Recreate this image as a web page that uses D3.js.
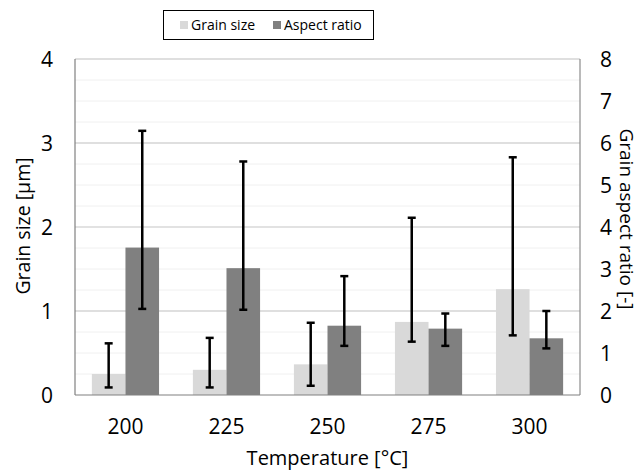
<!DOCTYPE html>
<html>
<head>
<meta charset="utf-8">
<script src="https://cdn.jsdelivr.net/npm/d3@7"></script>
<style>
  body { margin: 0; background: #fff; }
  text { font-family: "Open Sans", sans-serif; fill: #000; }
</style>
</head>
<body>
<svg id="chart" width="639" height="472"></svg>
<script>
// values
const temps = ['200', '225', '250', '275', '300'];
const grainSize = [0.25, 0.30, 0.365, 0.87, 1.26];
const grainLow = [0.09, 0.09, 0.11, 0.635, 0.71];
const grainHigh = [0.615, 0.68, 0.86, 2.11, 2.83];
const aspect = [3.51, 3.02, 1.65, 1.58, 1.35];
const aspectLow = [2.05, 2.03, 1.17, 1.17, 1.11];
const aspectHigh = [6.29, 5.56, 2.83, 1.94, 2.0];
const leftTicks = [0, 1, 2, 3, 4];
const rightTicks = [0, 1, 2, 3, 4, 5, 6, 7, 8];

const svg = d3.select('#chart');
const margin = { top: 59, right: 59, bottom: 77, left: 75 };
const width = 639 - margin.left - margin.right;
const height = 472 - margin.top - margin.bottom;

const g = svg.append('g').attr('transform', `translate(${margin.left},${margin.top})`);

const x0 = d3.scaleBand().domain(temps).range([0, width]).paddingInner(0.335).paddingOuter(0.167);
const x1 = d3.scaleBand().domain(['grain', 'aspect']).range([0, x0.bandwidth()]);
const yL = d3.scaleLinear().domain([0, 4]).range([height, 0]);
const yR = d3.scaleLinear().domain([0, 8]).range([height, 0]);

// minor gridlines every 0.25
g.append('g').selectAll('line')
  .data(d3.range(0.25, 4, 0.25).filter(v => v % 1 !== 0)).enter().append('line')
  .attr('x1', 0).attr('x2', width)
  .attr('y1', d => yL(d)).attr('y2', d => yL(d))
  .attr('stroke', '#f0f0f0').attr('stroke-width', 1);

// major gridlines
g.append('g').selectAll('line')
  .data([1, 2, 3, 4]).enter().append('line')
  .attr('x1', 0).attr('x2', width)
  .attr('y1', d => yL(d)).attr('y2', d => yL(d))
  .attr('stroke', d => d === 2 ? '#d9d9d9' : '#bfbfbf')
  .attr('stroke-width', d => d === 2 ? 1.5 : 1);

// right border
g.append('line').attr('x1', width).attr('x2', width).attr('y1', 0).attr('y2', height)
  .attr('stroke', '#8c8c8c').attr('stroke-width', 1.2);

const rows = temps.map((t, i) => ({
  t,
  grain: grainSize[i], gLo: grainLow[i], gHi: grainHigh[i],
  aspect: aspect[i], aLo: aspectLow[i], aHi: aspectHigh[i]
}));

const grp = g.append('g').selectAll('g')
  .data(rows).enter().append('g')
  .attr('transform', d => `translate(${x0(d.t)},0)`);

grp.append('rect')
  .attr('x', x1('grain')).attr('width', x1.bandwidth())
  .attr('y', d => yL(d.grain)).attr('height', d => height - yL(d.grain))
  .attr('fill', '#d9d9d9');

grp.append('rect')
  .attr('x', x1('aspect')).attr('width', x1.bandwidth())
  .attr('y', d => yR(d.aspect)).attr('height', d => height - yR(d.aspect))
  .attr('fill', '#808080');

function errorBar(sel, cx, lo, hi) {
  sel.append('line')
    .attr('x1', cx).attr('x2', cx).attr('y1', lo).attr('y2', hi)
    .attr('stroke', '#000').attr('stroke-width', 2.5);
  [lo, hi].forEach(f => {
    sel.append('line')
      .attr('x1', cx - 4).attr('x2', cx + 4).attr('y1', f).attr('y2', f)
      .attr('stroke', '#000').attr('stroke-width', 2.5);
  });
}

grp.each(function(d) {
  const s = d3.select(this);
  errorBar(s, x1('grain') + x1.bandwidth() / 2, d => yL(d.gLo), d => yL(d.gHi));
  errorBar(s, x1('aspect') + x1.bandwidth() / 2, d => yR(d.aLo), d => yR(d.aHi));
});

// axes lines
g.append('line').attr('x1', 0).attr('x2', 0).attr('y1', 0).attr('y2', height)
  .attr('stroke', '#808080').attr('stroke-width', 1.2);
g.append('line').attr('x1', 0).attr('x2', width).attr('y1', height).attr('y2', height)
  .attr('stroke', '#808080').attr('stroke-width', 1.2);

// left axis
const leftAxis = g.append('g')
  .call(d3.axisLeft(yL).tickValues(leftTicks).tickFormat(d3.format('d')).tickSize(0).tickPadding(22));
leftAxis.select('.domain').remove();
leftAxis.selectAll('text').style('font-size', '21px').attr('dy', '0.35em');

// right axis
const rightAxis = g.append('g').attr('transform', `translate(${width},0)`)
  .call(d3.axisRight(yR).tickValues(rightTicks).tickFormat(d3.format('d')).tickSize(0).tickPadding(20));
rightAxis.select('.domain').remove();
rightAxis.selectAll('text').style('font-size', '21px').attr('dy', '0.35em');

// bottom axis
const bottomAxis = g.append('g').attr('transform', `translate(0,${height})`)
  .call(d3.axisBottom(x0).tickSize(0).tickPadding(24));
bottomAxis.select('.domain').remove();
bottomAxis.selectAll('text').style('font-size', '21px');

// axis titles
svg.append('text').attr('transform', 'translate(23,226) rotate(-90)')
  .attr('text-anchor', 'middle').attr('dy', '0.35em')
  .style('font-size', '19.5px').text('Grain size [μm]');

svg.append('text').attr('transform', 'translate(627,219) rotate(90)')
  .attr('text-anchor', 'middle').attr('dy', '0.35em')
  .style('font-size', '19px').text('Grain aspect ratio [-]');

svg.append('text').attr('x', margin.left + width / 2).attr('y', 458)
  .attr('text-anchor', 'middle').attr('dy', '0.35em')
  .style('font-size', '20px').text('Temperature [°C]');

// legend
const legend = svg.append('g');
legend.append('rect').attr('x', 163.5).attr('y', 10.5).attr('width', 210).attr('height', 29)
  .attr('fill', '#fff').attr('stroke', '#000').attr('stroke-width', 1);
const legendItems = [
  { label: 'Grain size', color: '#d9d9d9', x: 180 },
  { label: 'Aspect ratio', color: '#808080', x: 273 }
];
const li = legend.selectAll('g.item').data(legendItems).enter().append('g')
  .attr('transform', d => `translate(${d.x},25)`);
li.append('rect').attr('x', 0).attr('y', -4).attr('width', 8).attr('height', 8).attr('fill', d => d.color);
li.append('text').attr('x', 11).attr('dy', '0.35em').style('font-size', '14px').text(d => d.label);
</script>
</body>
</html>
